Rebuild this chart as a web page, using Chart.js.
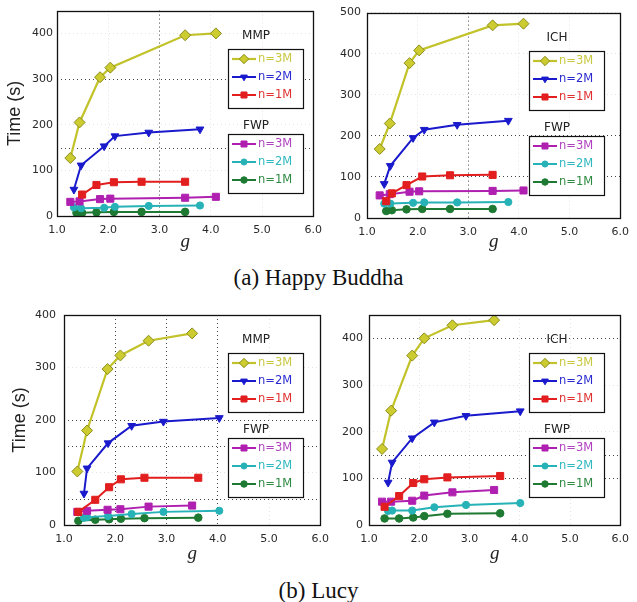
<!DOCTYPE html>
<html>
<head>
<meta charset="utf-8">
<script src="https://cdn.jsdelivr.net/npm/chart.js@4.4.0/dist/chart.umd.min.js"></script>
<style>
  html, body { margin: 0; padding: 0; background: #fff; }
  #fig { position: relative; width: 637px; height: 602px; overflow: hidden; }
  .panel { position: absolute; }
  .caption {
    position: absolute; left: 0; width: 637px; text-align: center;
    font-family: "Liberation Serif", "DejaVu Serif", serif; font-size: 23px;
    line-height: 23px; color: #111;
  }
</style>
</head>
<body>
<div id="fig">
  <div class="panel" style="left:0;top:0"><canvas id="c1" width="330" height="255"></canvas></div>
  <div class="panel" style="left:318px;top:0"><canvas id="c2" width="319" height="255"></canvas></div>
  <div class="panel" style="left:0;top:300px"><canvas id="c3" width="337" height="270"></canvas></div>
  <div class="panel" style="left:318px;top:300px"><canvas id="c4" width="319" height="270"></canvas></div>
  <div class="caption" style="top:266px">(a) Happy Buddha</div>
  <div class="caption" style="top:579px">(b) Lucy</div>
</div>
<script>
// tick values shared by all four plots
const gTicks = [1, 2, 3, 4, 5, 6];
const timeTicks = [0, 100, 200, 300, 400, 500];

// series labels: first three are MMP / ICH, last three FWP
const seriesLabels = ['n=3M', 'n=2M', 'n=1M', 'n=3M', 'n=2M', 'n=1M'];

// Happy Buddha, MMP vs FWP  ([g, seconds])
const hbMmp3M = [[1.26, 127], [1.44, 205], [1.84, 304], [2.04, 325], [3.50, 396], [4.10, 400]];
const hbMmp2M = [[1.33, 58], [1.47, 111], [1.92, 153], [2.13, 175], [2.79, 183], [3.79, 190]];
const hbMmp1M = [[1.49, 47], [1.77, 68], [2.11, 74], [2.65, 75], [3.50, 75]];
const hbFwpA3M = [[1.26, 31], [1.44, 32], [1.84, 37], [2.04, 38], [3.50, 40], [4.10, 42]];
const hbFwpA2M = [[1.33, 19], [1.47, 17], [1.92, 18], [2.13, 20], [2.79, 22], [3.79, 23]];
const hbFwpA1M = [[1.38, 7], [1.49, 7], [1.77, 8], [2.11, 9], [2.65, 9], [3.50, 9]];

// Happy Buddha, ICH vs FWP
const hbIch3M = [[1.25, 168], [1.45, 230], [1.84, 377], [2.03, 408], [3.48, 469], [4.09, 473]];
const hbIch2M = [[1.34, 83], [1.46, 127], [1.91, 195], [2.13, 215], [2.78, 227], [3.79, 237]];
const hbIch1M = [[1.38, 41], [1.49, 60], [1.78, 80], [2.09, 101], [2.64, 104], [3.48, 105]];
const hbFwpB3M = [[1.25, 55], [1.45, 58], [1.84, 64], [2.03, 65], [3.48, 66], [4.09, 67]];
const hbFwpB2M = [[1.34, 35], [1.46, 35], [1.91, 37], [2.13, 38], [2.78, 38], [3.79, 39]];
const hbFwpB1M = [[1.38, 17], [1.49, 19], [1.78, 21], [2.09, 22], [2.64, 22], [3.48, 22]];

// Lucy, MMP vs FWP
const lucyMmp3M = [[1.26, 102], [1.45, 180], [1.85, 297], [2.10, 323], [2.65, 351], [3.50, 365]];
const lucyMmp2M = [[1.39, 60], [1.45, 108], [1.86, 156], [2.32, 189], [2.94, 197], [4.03, 204]];
const lucyMmp1M = [[1.28, 25], [1.61, 48], [1.88, 72], [2.11, 87], [2.57, 90], [3.62, 90]];
const lucyFwpA3M = [[1.26, 25], [1.45, 27], [1.85, 29], [2.10, 30], [2.65, 35], [3.50, 37]];
const lucyFwpA2M = [[1.39, 14], [1.45, 15], [1.86, 17], [2.32, 21], [2.94, 25], [4.03, 27]];
const lucyFwpA1M = [[1.28, 8], [1.61, 10], [1.88, 11], [2.11, 12], [2.57, 13], [3.62, 14]];

// Lucy, ICH vs FWP
const lucyIch3M = [[1.26, 163], [1.44, 245], [1.86, 363], [2.10, 400], [2.66, 428], [3.49, 439]];
const lucyIch2M = [[1.38, 91], [1.46, 134], [1.86, 186], [2.30, 220], [2.93, 234], [4.01, 244]];
const lucyIch1M = [[1.31, 39], [1.60, 62], [1.88, 90], [2.10, 98], [2.56, 102], [3.61, 105]];
const lucyFwpB3M = [[1.26, 50], [1.44, 50], [1.86, 52], [2.10, 63], [2.66, 70], [3.49, 75]];
const lucyFwpB2M = [[1.38, 30], [1.46, 31], [1.86, 31], [2.30, 38], [2.93, 43], [4.01, 47]];
const lucyFwpB1M = [[1.31, 14], [1.60, 14], [1.88, 16], [2.10, 19], [2.56, 24], [3.61, 25]];

// marker / line look for the six series
const seriesStyles = [
  { color: '#c2c22a', fill: '#cccc30', edge: '#8c8c1c', pointStyle: 'rectRot', radius: 5.5, width: 2.2 },
  { color: '#1a1acc', pointStyle: 'triangle', rotation: 180, radius: 4.5, width: 2 },
  { color: '#e21e1e', pointStyle: 'rect', radius: 5, width: 2 },
  { color: '#b020b0', pointStyle: 'rect', radius: 5, width: 2 },
  { color: '#26b2b6', pointStyle: 'circle', radius: 3.6, width: 2 },
  { color: '#1e7a32', pointStyle: 'circle', radius: 3.8, width: 2 }
];
const legendTextColors = ['#c8c840', '#2a2ad0', '#e03030', '#b040c0', '#30b8c0', '#2e8a40'];

Chart.defaults.font.family = '"DejaVu Sans", sans-serif';
Chart.defaults.color = '#222';

// extra dotted rule lines and the closed axes box
const boxPlugin = {
  id: 'axesBox',
  beforeDatasetsDraw(chart, args, opts) {
    const { ctx, chartArea: a } = chart;
    const ys = chart.scales.y;
    ctx.save();
    ctx.strokeStyle = '#444';
    ctx.lineWidth = 1;
    ctx.setLineDash([1, 3]);
    (opts.extraY || []).forEach(v => {
      const py = Math.round(ys.getPixelForValue(v)) + 0.5;
      ctx.beginPath(); ctx.moveTo(a.left, py); ctx.lineTo(a.right, py); ctx.stroke();
    });
    ctx.restore();
  },
  afterDatasetsDraw(chart) {
    const { ctx, chartArea: a } = chart;
    ctx.save();
    ctx.strokeStyle = '#111';
    ctx.lineWidth = 1.3;
    ctx.strokeRect(Math.round(a.left) + 0.5, Math.round(a.top) + 0.5,
      Math.round(a.right - a.left), Math.round(a.bottom - a.top));
    ctx.restore();
  }
};

// two boxed legends (method group on top, FWP below)
const groupLegend = {
  id: 'groupLegend',
  afterDraw(chart, args, opts) {
    const { ctx, chartArea: a } = chart;
    const w = 75, h = 59;
    const left = Math.round(a.right - opts.right - w);
    opts.groups.forEach(g => {
      const top = Math.round(a.top + g.top);
      ctx.save();
      ctx.fillStyle = '#fff';
      ctx.fillRect(left, top, w, h);
      ctx.strokeStyle = '#111';
      ctx.lineWidth = 1.2;
      ctx.strokeRect(left + 0.5, top + 0.5, w, h);
      ctx.fillStyle = '#222';
      ctx.font = '12px "DejaVu Sans", sans-serif';
      ctx.textAlign = 'center';
      ctx.textBaseline = 'middle';
      ctx.fillText(g.title, left + 28, a.top + g.titleY);
      g.items.forEach((di, k) => {
        const ds = chart.data.datasets[di];
        const y = top + 10 + k * 18;
        ctx.strokeStyle = ds.borderColor;
        ctx.lineWidth = ds.borderWidth;
        ctx.beginPath(); ctx.moveTo(left + 4, y); ctx.lineTo(left + 28, y); ctx.stroke();
        ctx.fillStyle = ds.pointBackgroundColor;
        ctx.strokeStyle = ds.pointBorderColor;
        ctx.lineWidth = 1;
        Chart.helpers.drawPoint(ctx, {
          pointStyle: ds.pointStyle, radius: ds.pointRadius * 0.85,
          rotation: ds.pointRotation || 0, borderWidth: 1
        }, left + 16, y);
        ctx.fillStyle = legendTextColors[di];
        ctx.font = '11.5px "DejaVu Sans", sans-serif';
        ctx.textAlign = 'left';
        ctx.fillText(ds.label, left + 30, y + 0.5);
      });
      ctx.restore();
    });
  }
};

function makePanel(id, p) {
  const datasets = p.series.map((pts, i) => {
    const st = seriesStyles[i];
    return {
      label: seriesLabels[i],
      data: pts.map(q => ({ x: q[0], y: q[1] })),
      borderColor: st.color,
      backgroundColor: st.fill || st.color,
      pointBackgroundColor: st.fill || st.color,
      pointBorderColor: st.edge || st.color,
      pointBorderWidth: 1,
      pointStyle: st.pointStyle,
      pointRotation: st.rotation || 0,
      pointRadius: st.radius,
      borderWidth: st.width,
      tension: 0,
      fill: false
    };
  });

  new Chart(document.getElementById(id), {
    type: 'line',
    data: { datasets },
    plugins: [boxPlugin, groupLegend],
    options: {
      responsive: false,
      animation: false,
      devicePixelRatio: 1,
      layout: { padding: { top: p.padTop, right: p.padRight, left: 0, bottom: 0 } },
      plugins: {
        legend: { display: false },
        tooltip: { enabled: false },
        axesBox: { extraY: p.extraY },
        groupLegend: {
          right: p.legendRight,
          groups: [
            { title: p.method, top: 38, titleY: 25, items: [0, 1, 2] },
            { title: 'FWP', top: 123, titleY: 115, items: [3, 4, 5] }
          ]
        }
      },
      scales: {
        x: {
          type: 'linear', min: 1, max: 6,
          afterBuildTicks: s => { s.ticks = gTicks.map(v => ({ value: v })); },
          afterFit: s => { s.height = p.xHeight; },
          ticks: {
            callback: v => v.toFixed(1), padding: 8, maxRotation: 0, autoSkip: false,
            font: { size: 11 }, color: '#2a2a2a'
          },
          grid: {
            drawTicks: false, lineWidth: 1,
            color: c => p.darkX.includes(c.tick && c.tick.value) ? '#444' : '#e2e2e2'
          },
          border: { display: false, dash: [1, 3] },
          title: {
            display: true, text: 'g', color: '#222',
            font: { family: '"Liberation Serif", serif', style: 'italic', size: 19 },
            padding: { top: 0, bottom: p.gPad }
          }
        },
        y: {
          min: 0, max: p.yMax,
          afterBuildTicks: s => { s.ticks = timeTicks.filter(v => v <= p.yMax).map(v => ({ value: v })); },
          afterFit: s => { s.width = p.yWidth; },
          ticks: { padding: p.yTickPad, font: { size: 11 }, color: '#2a2a2a' },
          grid: {
            drawTicks: false, lineWidth: 1,
            color: c => p.darkY.includes(c.tick && c.tick.value) ? '#444' : '#e2e2e2'
          },
          border: { display: false, dash: [1, 3] },
          title: {
            display: p.yTitle, text: 'Time (s)', color: '#222',
            font: { family: '"Liberation Sans", Arial, sans-serif', size: 18 },
            padding: { top: p.yTitlePad, bottom: 0 }
          }
        }
      }
    }
  });
}

makePanel('c1', {
  series: [hbMmp3M, hbMmp2M, hbMmp1M, hbFwpA3M, hbFwpA2M, hbFwpA1M],
  method: 'MMP', yMax: 450, padTop: 5, padRight: 8, yWidth: 57, xHeight: 39, gPad: 2,
  yTickPad: 4, yTitle: true, yTitlePad: 4, legendRight: 10,
  darkX: [3], darkY: [300], extraY: [150]
});
makePanel('c2', {
  series: [hbIch3M, hbIch2M, hbIch1M, hbFwpB3M, hbFwpB2M, hbFwpB1M],
  method: 'ICH', yMax: 500, padTop: 5, padRight: 1, yWidth: 49, xHeight: 37, gPad: 2,
  yTickPad: 6, yTitle: false, yTitlePad: 0, legendRight: 16,
  darkX: [3], darkY: [100, 200], extraY: []
});
makePanel('c3', {
  series: [lucyMmp3M, lucyMmp2M, lucyMmp1M, lucyFwpA3M, lucyFwpA2M, lucyFwpA1M],
  method: 'MMP', yMax: 400, padTop: 15, padRight: 7, yWidth: 64, xHeight: 45, gPad: 5,
  yTickPad: 8, yTitle: true, yTitlePad: 9, legendRight: 17,
  darkX: [2, 3, 4], darkY: [200], extraY: [150, 50]
});
makePanel('c4', {
  series: [lucyIch3M, lucyIch2M, lucyIch1M, lucyFwpB3M, lucyFwpB2M, lucyFwpB1M],
  method: 'ICH', yMax: 450, padTop: 15, padRight: 1, yWidth: 51, xHeight: 45, gPad: 5,
  yTickPad: 6, yTitle: false, yTitlePad: 0, legendRight: 16,
  darkX: [], darkY: [100, 400], extraY: [150]
});
</script>
</body>
</html>
